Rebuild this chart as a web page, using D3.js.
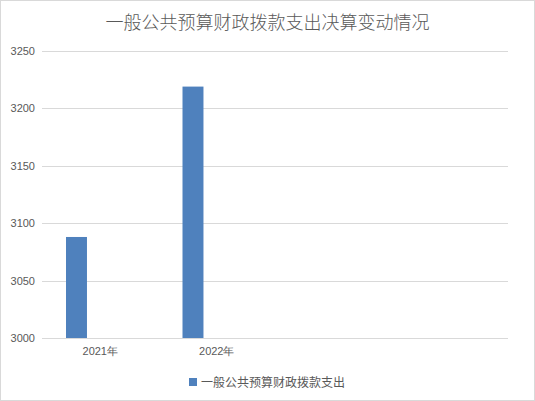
<!DOCTYPE html>
<html>
<head>
<meta charset="utf-8">
<script src="https://cdn.jsdelivr.net/npm/d3@7"></script>
<style>
  body { margin: 0; background: #fff; }
  svg { display: block; font-family: "Noto Sans CJK SC", "Liberation Sans", sans-serif; }
</style>
</head>
<body>
<svg id="chart" width="535" height="401"></svg>
<script>
// chart data
var title = "一般公共预算财政拨款支出决算变动情况"
var seriesName = "一般公共预算财政拨款支出"
var categories = ["2021年", "2022年", "c3", "c4"]
var values = [3088, 3219]
var yTicks = [3000, 3050, 3100, 3150, 3200, 3250]

var svg = d3.select("#chart")
var W = 535, H = 401
var margin = { top: 51, right: 27, bottom: 63, left: 42 }
var plotW = W - margin.left - margin.right
var plotH = H - margin.top - margin.bottom

// outer border
svg.append("rect")
    .attr("x", 0.5).attr("y", 0.5)
    .attr("width", W - 1).attr("height", H - 1)
    .attr("fill", "#fff").attr("stroke", "#d9d9d9")

svg.append("text")
    .attr("x", W / 2).attr("y", 29)
    .attr("text-anchor", "middle")
    .attr("font-size", 18)
    .attr("font-weight", 300)
    .attr("fill", "#595959")
    .text(title)

var g = svg.append("g").attr("transform", "translate(" + margin.left + "," + margin.top + ")")

var x = d3.scaleBand().domain(categories).range([0, plotW]).padding(0)
var y = d3.scaleLinear().domain([3000, 3250]).range([plotH, 0])

// grid lines
g.selectAll(".grid").data(yTicks).enter().append("line")
    .attr("x1", 0).attr("x2", plotW)
    .attr("y1", function(d) { return Math.round(y(d)) + 0.5 })
    .attr("y2", function(d) { return Math.round(y(d)) + 0.5 })
    .attr("stroke", "#d9d9d9")

// y axis labels
var yAxis = d3.axisLeft(y).tickValues(yTicks).tickFormat(d3.format("d")).tickSize(0).tickPadding(7)
g.append("g").call(yAxis)
    .call(function(a) { a.select(".domain").remove() })
    .selectAll("text")
    .attr("font-size", 11)
    .attr("fill", "#595959")
    .attr("font-family", "Liberation Sans, sans-serif")

// x axis labels (only real categories)
var xAxis = d3.axisBottom(x).tickSize(0).tickPadding(9)
    .tickFormat(function(d, i) { return i < values.length ? d : "" })
g.append("g").attr("transform", "translate(0," + plotH + ")").call(xAxis)
    .call(function(a) { a.select(".domain").remove() })
    .selectAll("text")
    .attr("font-size", 11)
    .attr("fill", "#595959")

// bars
var bw = x.bandwidth()
g.selectAll(".bar").data(values).enter().append("rect")
    .attr("x", function(d, i) { return x(categories[i]) + bw * 0.206 })
    .attr("width", bw * 0.18)
    .attr("y", function(d) { return y(d) })
    .attr("height", function(d) { return y(3000) - y(d) })
    .attr("fill", "#4f81bd")

// legend
var lg = svg.append("g").attr("transform", "translate(189,378)")
lg.append("rect").attr("width", 8).attr("height", 8).attr("fill", "#4f81bd")
lg.append("text")
    .attr("x", 12).attr("y", 8.5)
    .attr("font-size", 12)
    .attr("fill", "#595959")
    .text(seriesName)
</script>
</body>
</html>
